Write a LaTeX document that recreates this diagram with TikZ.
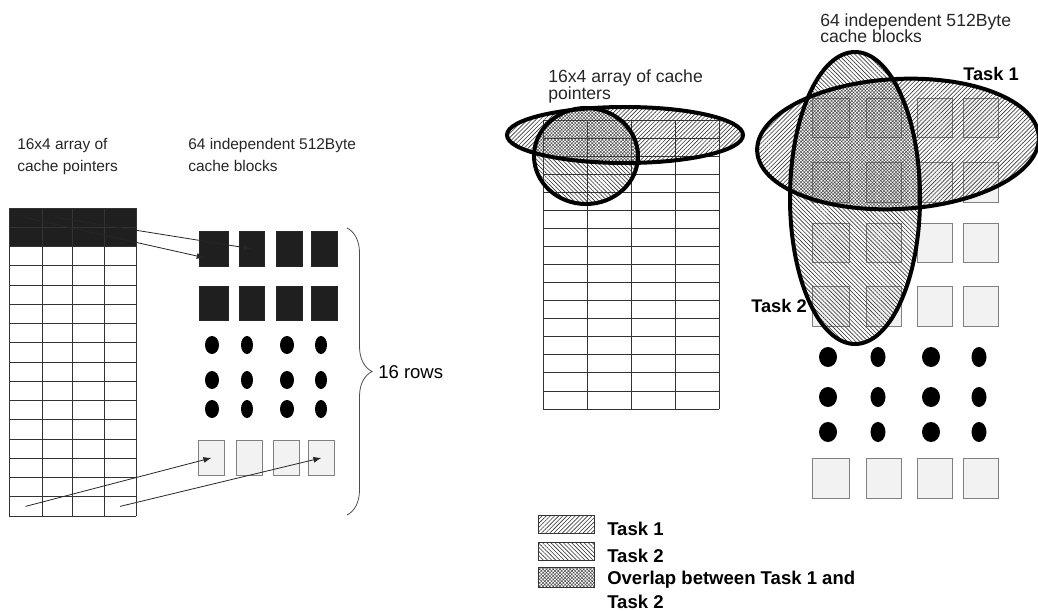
\documentclass[tikz,border=0pt]{standalone}
\usepackage{fontspec}
\setmainfont{Liberation Sans}
\usepackage{tikz}
\usetikzlibrary{arrows.meta, positioning, calc, patterns.meta, decorations.pathreplacing}

\tikzset{
  tbl/.style={black!80, line width=0.6pt},
  darkblk/.style={draw=black!85, fill=black!88, inner sep=0pt, anchor=north west},
  lightblk/.style={draw=black!50, fill=black!5, line width=0.6pt, inner sep=0pt, anchor=north west},
  ptr/.style={black!85, line width=0.6pt, -{Latex[length=6pt,width=4.5pt]}},
  task1/.style={pattern={Lines[angle=45,distance=2.2pt,line width=0.45pt]}, pattern color=black!80},
  task2/.style={pattern={Lines[angle=-45,distance=2.2pt,line width=0.45pt]}, pattern color=black!80},
  overlap/.style={pattern={Hatch[angle=45,distance=1.8pt,line width=0.4pt]}, pattern color=black!70},
  ring/.style={black, line width=3pt},
  lbl/.style={inner sep=0pt, anchor=base west, align=left, text=black!85},
}

\begin{document}
\begin{tikzpicture}[x=0.75pt, y=-0.75pt]
  \useasboundingbox (0,0) rectangle (1038,610);

  % Left: pointer table
  \fill[black!88] (9,208) rectangle (136,247);
  \foreach \i in {0,...,16}
    \draw[tbl] (9,{208+19.25*\i}) -- (136,{208+19.25*\i});
  \foreach \x in {9,42,72,104,136}
    \draw[tbl] (\x,208) -- (\x,516);
  \coordinate (p-1-1) at (25.5,217.6);
  \coordinate (p-1-2) at (57,217.6);
  \coordinate (p-16-1) at (25.5,506.4);
  \coordinate (p-16-4) at (120,506.4);

  % (base anchor of a two-line node = last line)
  \node[lbl, font=\fontsize{11.6}{16.5}\selectfont] (ptrlbl) at (17,171) {16x4 array of\\cache pointers};
  \node[lbl, font=\fontsize{11.6}{16.5}\selectfont] (blklbl) at (188,171) {64 independent 512Byte\\cache blocks};

  % Left: cache blocks
  \foreach \r/\y/\h in {1/231/35, 2/286/34}
    \foreach \c/\x/\w in {1/199/29, 2/239/25, 3/276/26, 4/311/26}
      \node[darkblk, minimum width=\w*0.75pt, minimum height=\h*0.75pt] (lb-\r-\c) at (\x,\y) {};
  \foreach \y in {345,380,409}
    \foreach \x/\w in {212/14, 247/12, 287/14, 321/12}
      \fill (\x,\y) ellipse [x radius=\w/2, y radius=9];
  \foreach \c/\x in {1/198, 2/236, 3/273, 4/308}
    \node[lightblk, minimum width=26*0.75pt, minimum height=35*0.75pt] (ll-\c) at (\x,440) {};

  % pointers
  \draw[ptr] (p-1-2) -- (lb-1-2.center);
  \draw[ptr] (p-1-1) -- ([shift={(-9,9)}]lb-1-1.center);
  \draw[ptr] (p-16-1) -- (ll-1.center);
  \draw[ptr] (p-16-4) -- (ll-4.center);

  % brace
  \coordinate (brtop) at (347,228);
  \coordinate (brbot) at (347,515);
  \draw[black!70, line width=0.6pt, decorate, decoration={brace, amplitude=18.75pt}] (brtop) -- (brbot);
  \node[inner sep=0pt, anchor=west, font=\fontsize{13.9}{16}\selectfont] (rows) at (378,372) {16 rows};

  % Right: pointer table
  \foreach \i in {0,...,16}
    \draw[tbl] (543,{120+18.06*\i}) -- (719,{120+18.06*\i});
  \foreach \x in {543,587,631,675,719}
    \draw[tbl] (\x,120) -- (\x,409);

  % Right: cache blocks
  \foreach \r/\y/\h in {1/98/39, 2/162/40, 3/223/39, 4/286/40, 5/458/40}
    \foreach \c/\x/\w in {1/812/37, 2/866/35, 3/917/35, 4/963/35}
      \node[lightblk, minimum width=\w*0.75pt, minimum height=\h*0.75pt] (rb-\r-\c) at (\x,\y) {};
  \foreach \y in {357,397,432}
    \foreach \x/\w in {828/18, 878/15, 931/18, 979/15}
      \fill (\x,\y) ellipse [x radius=\w/2, y radius=10];

  % task regions
  \def\tAleft{(625,135) ellipse [x radius=118, y radius=28]}
  \def\tBleft{(586,156) ellipse [x radius=52, y radius=48]}
  \def\tAright{(898,144) ellipse [x radius=141, y radius=65, rotate=3]}
  \def\tBright{(855,198) ellipse [x radius=65, y radius=146]}

  \begin{scope}
    \clip \tAleft;
    \fill[task1, even odd rule] \tAleft \tBleft;
  \end{scope}
  \begin{scope}
    \clip \tBleft;
    \fill[task2, even odd rule] \tAleft \tBleft;
  \end{scope}
  \begin{scope}
    \clip \tAleft;
    \fill[overlap] \tBleft;
  \end{scope}
  \begin{scope}
    \clip \tAright;
    \fill[task1, even odd rule] \tAright \tBright;
  \end{scope}
  \begin{scope}
    \clip \tBright;
    \fill[task2, even odd rule] \tAright \tBright;
  \end{scope}
  \begin{scope}
    \clip \tAright;
    \fill[overlap] \tBright;
  \end{scope}
  \draw[ring] \tAleft;
  \draw[ring] \tBleft;
  \draw[ring] \tAright;
  \draw[ring] \tBright;

  \node[lbl, font=\fontsize{13.2}{12.5}\selectfont] (tbllbl) at (548,99) {16x4 array of cache\\pointers};
  \node[lbl, font=\fontsize{13.2}{12.5}\selectfont] (cachelbl) at (820,43) {64 independent 512Byte\\cache blocks};
  \node[lbl, text=black, font=\bfseries\fontsize{13.7}{16}\selectfont] (t1) at (963,80) {Task 1};
  \node[lbl, text=black, font=\bfseries\fontsize{13.7}{16}\selectfont] (t2) at (751,312) {Task 2};

  % legend
  \foreach \k/\y/\st in {1/515/task1, 2/542/task2, 3/567/overlap}
    \draw[black!80, line width=0.6pt, \st] (538,\y) rectangle ++(56,{\k==3 ? 20 : 18});
  \node[lbl, text=black, font=\bfseries\fontsize{13.9}{18}\selectfont] (leg1) at (607,535) {Task 1};
  \node[lbl, text=black, font=\bfseries\fontsize{13.9}{18}\selectfont] (leg2) at (607,562) {Task 2};
  \node[lbl, text=black, font=\bfseries\fontsize{13.9}{18}\selectfont] (leg3) at (607,608) {Overlap between Task 1 and\\Task 2};
\end{tikzpicture}
\end{document}
